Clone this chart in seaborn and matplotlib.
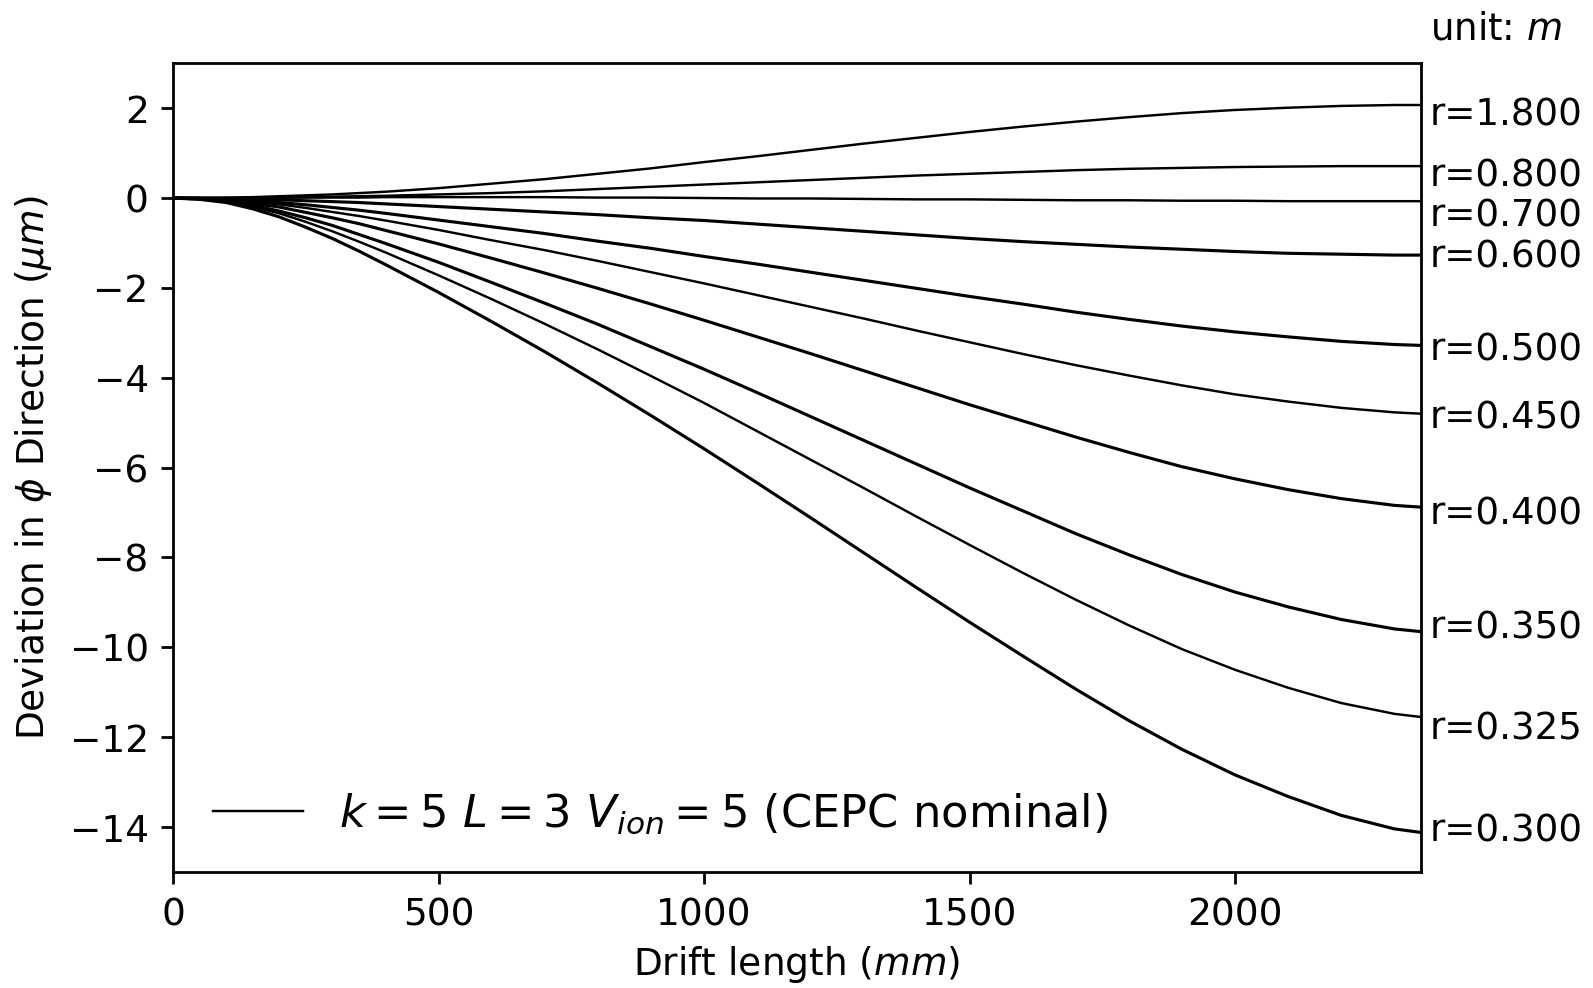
import pandas as pd
import matplotlib
matplotlib.use('Agg')
import matplotlib.pyplot as plt
import seaborn as sns
from matplotlib.lines import Line2D

plt.rcParams['font.size'] = 10.8

# drift length samples (mm)
drift_mm = [0, 50, 100, 150, 200, 250, 300, 350, 400, 500, 600, 700, 800, 900, 1000, 1100, 1200,
            1300, 1400, 1500, 1600, 1700, 1800, 1900, 2000, 2100, 2200, 2300, 2350]

# deviation in phi direction (um), one list per radius
dev_r1800 = [0, 0.00, 0.01, 0.02, 0.04, 0.06, 0.08, 0.11, 0.14, 0.22, 0.32, 0.42, 0.54, 0.66, 0.80,
             0.93, 1.07, 1.21, 1.34, 1.47, 1.59, 1.70, 1.80, 1.89, 1.96, 2.01, 2.05, 2.07, 2.07]
dev_r800 = [0, 0.00, 0.00, 0.00, 0.01, 0.02, 0.03, 0.04, 0.05, 0.08, 0.11, 0.15, 0.20, 0.25, 0.30,
            0.35, 0.40, 0.45, 0.50, 0.54, 0.58, 0.62, 0.65, 0.67, 0.69, 0.70, 0.71, 0.71, 0.71]
dev_r700 = [0, 0.00, 0.00, 0.00, 0.01, 0.01, 0.01, 0.01, 0.02, 0.02, 0.02, 0.02, 0.01, 0.01, 0.00,
            -0.01, -0.01, -0.02, -0.03, -0.03, -0.04, -0.05, -0.05, -0.06, -0.06, -0.07, -0.07, -0.07, -0.07]
dev_r600 = [0, 0.00, -0.01, -0.02, -0.04, -0.06, -0.08, -0.10, -0.13, -0.19, -0.25, -0.31, -0.37, -0.44,
            -0.50, -0.58, -0.66, -0.74, -0.82, -0.90, -0.97, -1.03, -1.09, -1.14, -1.19, -1.23, -1.25,
            -1.27, -1.27]
dev_r500 = [0, -0.01, -0.02, -0.06, -0.10, -0.15, -0.21, -0.27, -0.34, -0.49, -0.64, -0.79, -0.96, -1.12,
            -1.30, -1.47, -1.65, -1.83, -2.01, -2.19, -2.36, -2.54, -2.70, -2.85, -2.98, -3.09, -3.19,
            -3.26, -3.28]
dev_r450 = [0, -0.01, -0.03, -0.08, -0.14, -0.22, -0.31, -0.40, -0.50, -0.71, -0.94, -1.16, -1.40, -1.65,
            -1.90, -2.16, -2.42, -2.68, -2.95, -3.21, -3.47, -3.72, -3.95, -4.17, -4.37, -4.53, -4.67,
            -4.77, -4.80]
dev_r400 = [0, -0.01, -0.05, -0.12, -0.20, -0.32, -0.44, -0.57, -0.72, -1.02, -1.34, -1.67, -2.01, -2.36,
            -2.72, -3.09, -3.46, -3.84, -4.22, -4.60, -4.96, -5.32, -5.66, -5.98, -6.25, -6.49, -6.69,
            -6.84, -6.88]
dev_r350 = [0, -0.02, -0.07, -0.16, -0.29, -0.44, -0.61, -0.81, -1.01, -1.43, -1.88, -2.34, -2.81, -3.31,
            -3.81, -4.33, -4.86, -5.39, -5.92, -6.45, -6.96, -7.47, -7.94, -8.38, -8.77, -9.10, -9.38,
            -9.59, -9.65]
dev_r325 = [0, -0.02, -0.08, -0.20, -0.34, -0.53, -0.74, -0.97, -1.21, -1.72, -2.25, -2.80, -3.37, -3.96,
            -4.56, -5.19, -5.82, -6.45, -7.09, -7.72, -8.34, -8.94, -9.51, -10.04, -10.50, -10.90, -11.24,
            -11.48, -11.55]
dev_r300 = [0, -0.03, -0.10, -0.24, -0.42, -0.65, -0.90, -1.18, -1.48, -2.10, -2.75, -3.42, -4.12, -4.84,
            -5.58, -6.34, -7.11, -7.89, -8.67, -9.44, -10.19, -10.93, -11.63, -12.27, -12.84, -13.32, -13.74,
            -14.04, -14.12]

radii = [1.8, 0.8, 0.7, 0.6, 0.5, 0.45, 0.4, 0.35, 0.325, 0.3]
curves = [dev_r1800, dev_r800, dev_r700, dev_r600, dev_r500,
          dev_r450, dev_r400, dev_r350, dev_r325, dev_r300]

# styling: line widths and label shifts (data units) next to the right spine
line_w = [0.7, 0.7, 0.7, 0.9, 0.9, 0.7, 0.9, 0.9, 0.7, 0.9]
label_dy = [-0.14, -0.14, -0.25, 0.05, -0.02, -0.02, -0.07, 0.16, -0.18, 0.11]

fig, ax = plt.subplots(figsize=(6.372, 3.952), dpi=250)
fig.subplots_adjust(left=0.1086, right=0.892, bottom=0.1174, top=0.936)

for r, dev, lw, dy in zip(radii, curves, line_w, label_dy):
    df = pd.DataFrame({'drift': drift_mm, 'dev': dev})
    sns.lineplot(data=df, x='drift', y='dev', color='black', lw=lw,
                 estimator=None, sort=False, ax=ax)
    ax.text(1.007, dev[-1] + dy - 0.086, f'r={r:.3f}', transform=ax.get_yaxis_transform(),
            ha='left', va='center', fontsize=10.7)

ax.set_xlim(0, 2350)
ax.set_ylim(-15, 3)
ax.set_xticks([0, 500, 1000, 1500, 2000])
ax.set_yticks(range(-14, 3, 2))
ax.set_xlabel(r'Drift length ($mm$)', labelpad=3.2)
ax.set_ylabel(r'Deviation in $\phi$ Direction ($\mu m$)', labelpad=4.5)

handle = Line2D([], [], color='black', lw=0.7)
ax.legend([handle], [r'$k=5\ L=3\ V_{ion}=5$ (CEPC nominal)'],
          loc='lower left', bbox_to_anchor=(0, -0.005), frameon=False, fontsize=12.9)

fig.text(0.8977, 0.971, r'unit: $m$', ha='left', va='center', fontsize=10.7)

fig.savefig('out.png', dpi=250)
